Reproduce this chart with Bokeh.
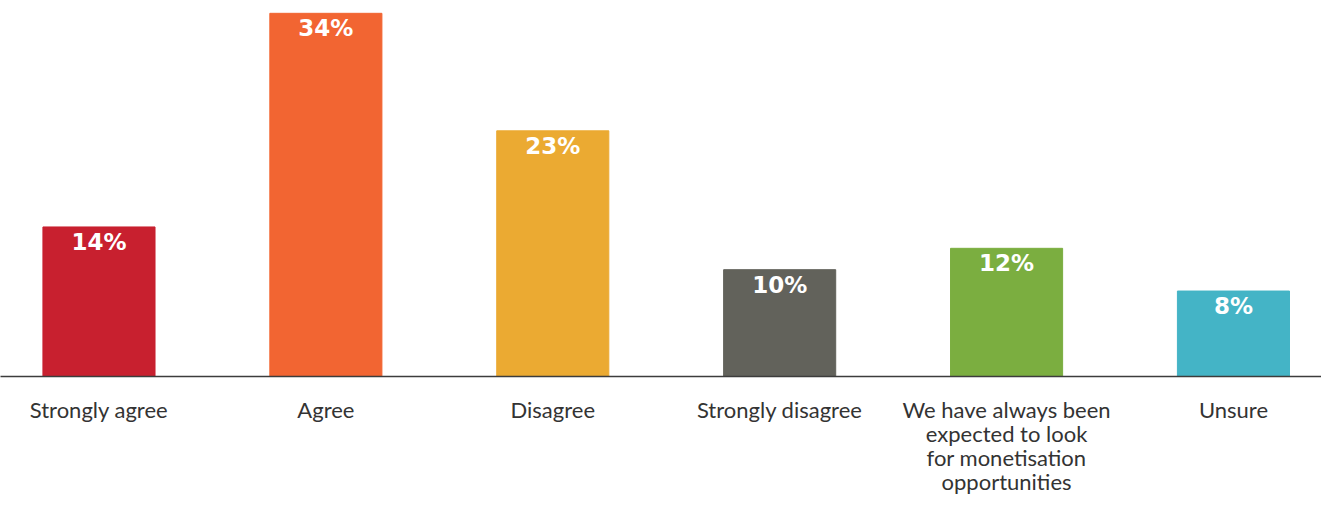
from bokeh.plotting import figure
from bokeh.models import ColumnDataSource, Range1d, FixedTicker
from bokeh.core.properties import value
from bokeh.embed import file_html
from bokeh.resources import INLINE

categories = ["Strongly agree", "Agree", "Disagree", "Strongly disagree",
              "We have always been\nexpected to look\nfor monetisation\nopportunities", "Unsure"]
values = [14, 34, 23, 10, 12, 8]
colors = ["#C8202F", "#F26532", "#EBAA32", "#62625B", "#7BAE40", "#44B4C6"]
value_labels = [f"{v}%" for v in values]

xs = list(range(len(categories)))
src = ColumnDataSource(dict(x=xs, top=values, color=colors, label=value_labels))

p = figure(width=1321, height=509, output_backend="svg", toolbar_location=None,
           x_range=Range1d(-0.434, 5.388), y_range=Range1d(0, 35.2),
           min_border_left=0, min_border_right=0, min_border_top=0, min_border_bottom=133,
           y_axis_location=None, outline_line_color=None, background_fill_color="white",
           border_fill_color="white")

p.vbar(x="x", top="top", bottom=0, width=0.494, color="color", source=src)
p.text(x="x", y="top", text="label", source=src, text_align="center", text_baseline="top",
       y_offset=2, text_color="white", text_font=value("DejaVu Sans"), text_font_style="bold",
       text_font_size="23px")

p.xgrid.visible = False
p.ygrid.visible = False
ax = p.xaxis[0]
ax.ticker = FixedTicker(ticks=xs)
ax.major_label_overrides = {i: c for i, c in enumerate(categories)}
ax.major_tick_line_color = None
ax.minor_tick_line_color = None
ax.major_tick_out = 0
ax.major_tick_in = 0
ax.axis_line_color = "#3c3c3c"
ax.axis_line_width = 1.3
ax.major_label_standoff = 19
ax.major_label_text_font = "Lato"
ax.major_label_text_font_size = "22px"
ax.major_label_text_line_height = 0.9
ax.major_label_text_color = "#333333"
ax.major_label_orientation = "horizontal"

open("out.html", "w").write(file_html(p, INLINE))
